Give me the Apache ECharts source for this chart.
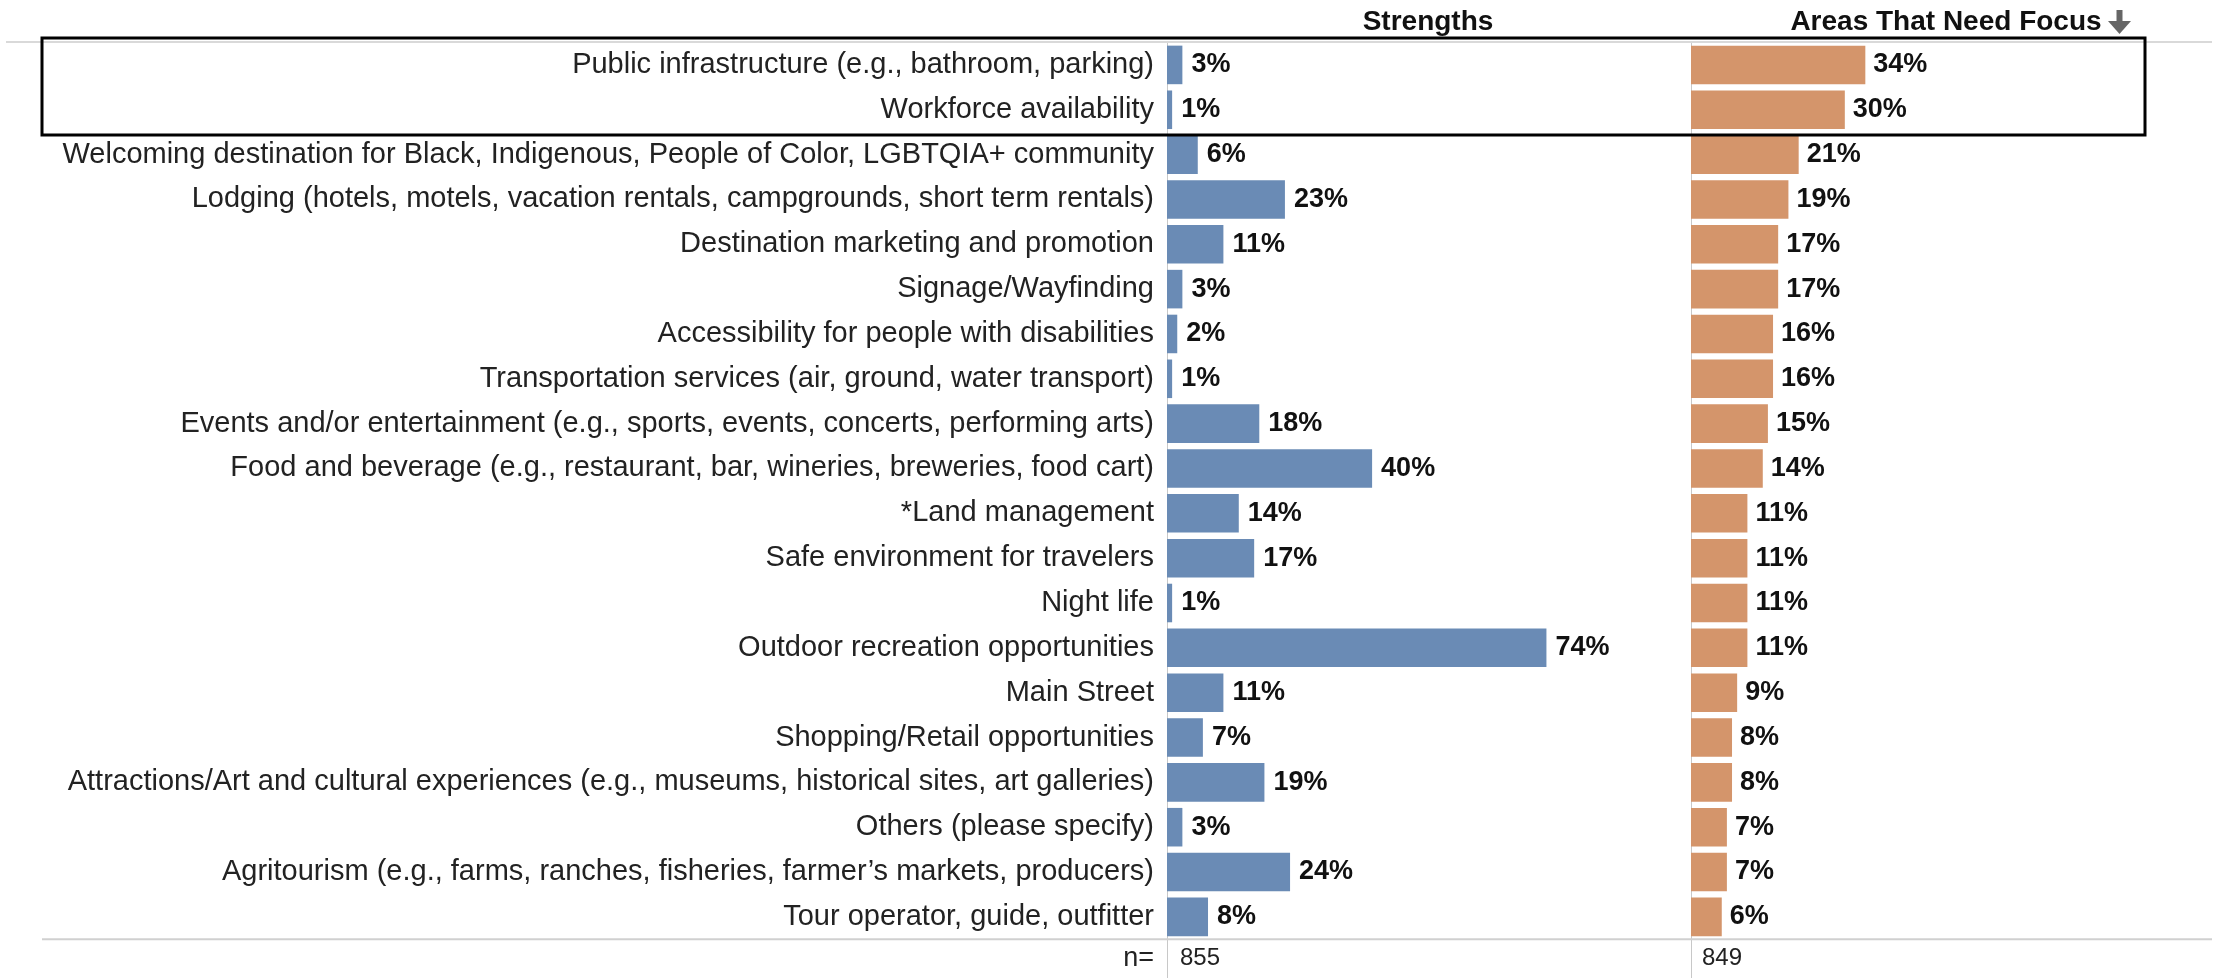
<!DOCTYPE html>
<html>
<head>
<meta charset="utf-8">
<script src="https://cdn.jsdelivr.net/npm/echarts@6/dist/echarts.min.js"></script>
<style>
html,body{margin:0;padding:0;background:#fff;}
#chart{width:2216px;height:978px;}
</style>
</head>
<body>
<div id="chart"></div>
<script>
const categories = [
  "Public infrastructure (e.g., bathroom, parking)",
  "Workforce availability",
  "Welcoming destination for Black, Indigenous, People of Color, LGBTQIA+ community",
  "Lodging (hotels, motels, vacation rentals, campgrounds, short term rentals)",
  "Destination marketing and promotion",
  "Signage/Wayfinding",
  "Accessibility for people with disabilities",
  "Transportation services (air, ground, water transport)",
  "Events and/or entertainment (e.g., sports, events, concerts, performing arts)",
  "Food and beverage (e.g., restaurant, bar, wineries, breweries, food cart)",
  "*Land management",
  "Safe environment for travelers",
  "Night life",
  "Outdoor recreation opportunities",
  "Main Street",
  "Shopping/Retail opportunities",
  "Attractions/Art and cultural experiences (e.g., museums, historical sites, art galleries)",
  "Others (please specify)",
  "Agritourism (e.g., farms, ranches, fisheries, farmer\u2019s markets, producers)",
  "Tour operator, guide, outfitter"
];
const strengths = [3, 1, 6, 23, 11, 3, 2, 1, 18, 40, 14, 17, 1, 74, 11, 7, 19, 3, 24, 8];
const focus = [34, 30, 21, 19, 17, 17, 16, 16, 15, 14, 11, 11, 11, 11, 9, 8, 8, 7, 7, 6];
const panelTitles = ["Strengths", "Areas That Need Focus"];
const nLabel = "n=";
const nValues = [855, 849];

const FONT = "'Liberation Sans', Arial, sans-serif";
const axisCats = categories.concat([nLabel]);

function buildData(values, n, dist) {
  const d = values.map(v => ({ value: v }));
  d.push({
    value: 0,
    label: {
      formatter: String(n),
      fontWeight: 'normal',
      fontSize: 24,
      color: '#222',
      distance: dist,
      offset: [0, -3]
    }
  });
  return d;
}

const chart = echarts.init(document.getElementById('chart'));
const rowH = 44.84;
const gridTop = 42.5;
const gridH = rowH * axisCats.length;

const option = {
  animation: false,
  backgroundColor: '#fff',
  grid: [
    { left: 1167, width: 523, top: gridTop, height: gridH, outerBoundsMode: 'none', containLabel: false },
    { left: 1691, width: 523, top: gridTop, height: gridH, outerBoundsMode: 'none', containLabel: false }
  ],
  xAxis: [
    { gridIndex: 0, type: 'value', min: 0, max: 102, show: false },
    { gridIndex: 1, type: 'value', min: 0, max: 102, show: false }
  ],
  yAxis: [
    {
      gridIndex: 0, type: 'category', inverse: true, data: axisCats,
      axisLine: { show: true, lineStyle: { color: '#c8c8c8', width: 1 } },
      axisTick: { show: false },
      axisLabel: {
        margin: 13, fontSize: 29, color: '#222', fontFamily: FONT,
        formatter: function (v) { return v === nLabel ? '{n|' + v + '}' : v; },
        rich: { n: { fontSize: 27, color: '#222', fontFamily: FONT, padding: [0, 0, 6, 0] } }
      }
    },
    {
      gridIndex: 1, type: 'category', inverse: true, data: axisCats,
      axisLine: { show: true, lineStyle: { color: '#c8c8c8', width: 1 } },
      axisTick: { show: false },
      axisLabel: { show: false }
    }
  ],
  series: [
    {
      type: 'bar', xAxisIndex: 0, yAxisIndex: 0,
      data: buildData(strengths, nValues[0], 13),
      barCategoryGap: '14%',
      itemStyle: { color: '#6a8bb5' },
      label: {
        show: true, position: 'right', distance: 9,
        formatter: '{c}%', fontSize: 27, fontWeight: 'bold', color: '#111', fontFamily: FONT
      }
    },
    {
      type: 'bar', xAxisIndex: 1, yAxisIndex: 1,
      data: buildData(focus, nValues[1], 11),
      barCategoryGap: '14%',
      itemStyle: { color: '#d4956b' },
      label: {
        show: true, position: 'right', distance: 8,
        formatter: '{c}%', fontSize: 27, fontWeight: 'bold', color: '#111', fontFamily: FONT
      }
    }
  ],
  graphic: [
    { type: 'line', shape: { x1: 6, y1: 42, x2: 2212, y2: 42 }, style: { stroke: '#d9d9d9', lineWidth: 2 }, z: 1 },
    { type: 'line', shape: { x1: 42, y1: gridTop + rowH * categories.length, x2: 2212, y2: gridTop + rowH * categories.length }, style: { stroke: '#d0d0d0', lineWidth: 2 }, z: 1 },
    { type: 'text', x: 1428, y: 22, style: { text: panelTitles[0], font: 'bold 28px ' + FONT, fill: '#111', textAlign: 'center', textVerticalAlign: 'middle' } },
    { type: 'text', x: 1946, y: 22, style: { text: panelTitles[1], font: 'bold 28px ' + FONT, fill: '#111', textAlign: 'center', textVerticalAlign: 'middle' } },
    { type: 'rect', shape: { x: 2116.5, y: 10, width: 6, height: 14 }, style: { fill: '#666' } },
    { type: 'polygon', shape: { points: [[2108, 21], [2131, 21], [2119.5, 34]] }, style: { fill: '#666' } },
    { type: 'rect', shape: { x: 42, y: 38, width: 2103, height: 97 }, style: { fill: 'none', stroke: '#000', lineWidth: 3 }, z: 100 }
  ]
};
chart.setOption(option);
</script>
</body>
</html>
